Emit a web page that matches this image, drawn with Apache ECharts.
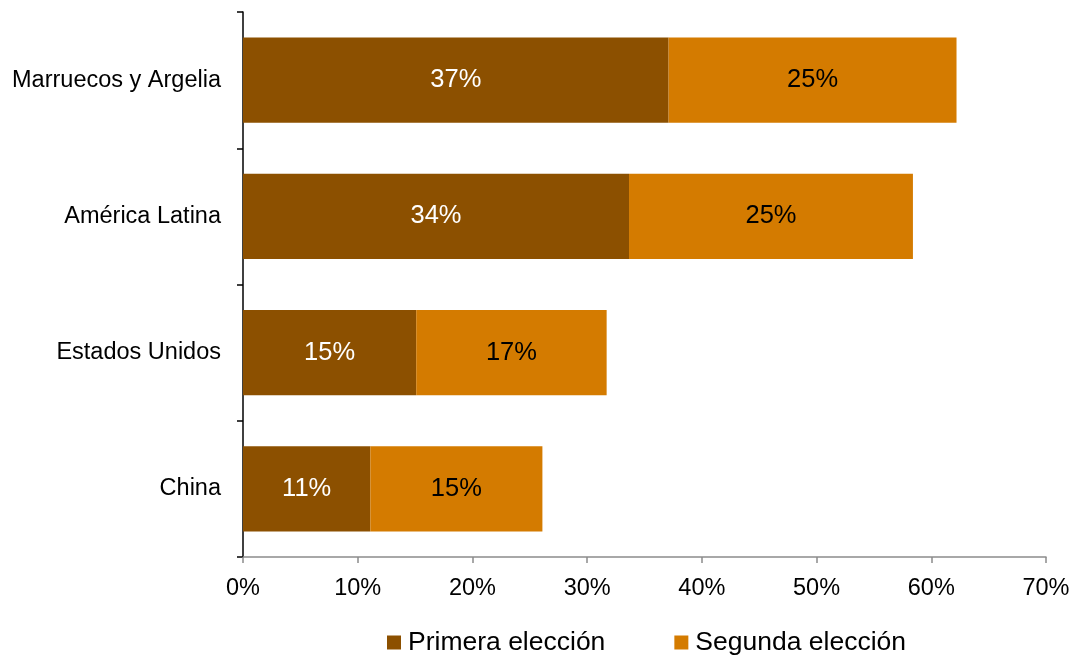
<!DOCTYPE html>
<html>
<head>
<meta charset="utf-8">
<script src="https://cdn.jsdelivr.net/npm/echarts@6/dist/echarts.min.js"></script>
<style>
  html, body { margin: 0; padding: 0; background: #fff; }
  #chart { width: 1075px; height: 657px; }
</style>
</head>
<body>
<div id="chart"></div>
<script>
// Regions, listed bottom to top as drawn on the category axis
const categories = ['China', 'Estados Unidos', 'América Latina', 'Marruecos y Argelia'];
const primeraEleccion = [11.1, 15.1, 33.65, 37.1];
const segundaEleccion = [15.0, 16.6, 24.75, 25.1];
const xTicks = [0, 10, 20, 30, 40, 50, 60, 70];

const FONT = 'Liberation Sans, Arial, sans-serif';
const chart = echarts.init(document.getElementById('chart'), null, { renderer: 'canvas' });

chart.setOption({
  animation: false,
  grid: { left: 243, right: 29, top: 12, bottom: 100, containLabel: false },
  legend: {
    top: 629,
    left: 387,
    padding: 0,
    itemWidth: 14,
    itemHeight: 14,
    itemGap: 69,
    icon: 'rect',
    textStyle: { fontFamily: FONT, fontSize: 26.5, color: '#000', padding: [0, 0, 0, 2] },
    data: ['Primera elección', 'Segunda elección']
  },
  xAxis: {
    type: 'value',
    min: xTicks[0],
    max: xTicks[xTicks.length - 1],
    interval: 10,
    axisLine: { show: true, lineStyle: { color: '#8c8c8c', width: 1.5 } },
    axisTick: { show: true, length: 6, lineStyle: { color: '#8c8c8c', width: 1.5 } },
    splitLine: { show: false },
    axisLabel: {
      fontFamily: FONT, fontSize: 23.5, color: '#000', margin: 20,
      formatter: v => v + '%'
    }
  },
  yAxis: {
    type: 'category',
    data: categories,
    axisLine: { show: true, lineStyle: { color: '#000', width: 1.5 } },
    axisTick: { show: true, length: 6, alignWithLabel: false, lineStyle: { color: '#000', width: 1.5 } },
    axisLabel: { fontFamily: FONT, fontSize: 23.5, color: '#000', margin: 22 }
  },
  series: [
    {
      name: 'Primera elección',
      type: 'bar',
      stack: 'total',
      barWidth: '62.5%',
      itemStyle: { color: '#8c5000' },
      label: {
        show: true, position: 'inside', color: '#fff',
        fontFamily: FONT, fontSize: 25.5,
        formatter: p => Math.round(p.value) + '%'
      },
      data: primeraEleccion
    },
    {
      name: 'Segunda elección',
      type: 'bar',
      stack: 'total',
      barWidth: '62.5%',
      itemStyle: { color: '#d47b00' },
      label: {
        show: true, position: 'inside', color: '#000',
        fontFamily: FONT, fontSize: 25.5,
        formatter: p => Math.round(p.value) + '%'
      },
      data: segundaEleccion
    }
  ]
});
</script>
</body>
</html>
